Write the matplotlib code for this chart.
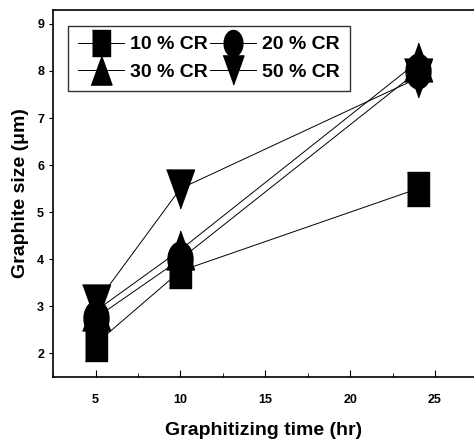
import numpy as np
import matplotlib

matplotlib.use("Agg")
import matplotlib.pyplot as plt
from matplotlib.ticker import MultipleLocator

plt.rcParams["font.family"] = ["Liberation Sans", "DejaVu Sans"]
plt.rcParams["font.weight"] = "bold"

time_hr = [5, 10, 24]
labels = ["10 % CR", "20 % CR", "30 % CR", "50 % CR"]
cr10 = [2.2, 3.75, 5.5]
cr20 = [2.75, 4.0, 8.0]
cr30 = [2.9, 4.2, 8.2]
cr50 = [3.05, 5.5, 7.85]

# tall markers, like the stretched scan
t = np.linspace(0, 2 * np.pi, 40)
m_square = [(-0.33, -0.5), (0.33, -0.5), (0.33, 0.5), (-0.33, 0.5)]
m_circle = list(zip(0.36 * np.cos(t), 0.5 * np.sin(t)))
m_up = [(-0.36, -0.5), (0.36, -0.5), (0.0, 0.5)]
m_down = [(-0.36, 0.5), (0.36, 0.5), (0.0, -0.5)]

series = [(cr10, m_square, 25), (cr20, m_circle, 25),
          (cr30, m_up, 28), (cr50, m_down, 28)]

fig = plt.figure(figsize=(4.74, 4.45), dpi=100)
ax = fig.add_axes([0.112, 0.153, 0.888, 0.825])

handles = []
for (ys, mk, ms), lab in zip(series, labels):
    h, = ax.plot(time_hr, ys, "-", color="black", lw=0.7, marker=mk,
                 markersize=ms, markerfacecolor="black",
                 markeredgecolor="black", label=lab)
    handles.append(h)

ax.set_xlim(2.5, 27.3)
ax.set_ylim(1.5, 9.3)
ax.xaxis.set_major_locator(MultipleLocator(5))
ax.xaxis.set_minor_locator(MultipleLocator(2.5))
ax.yaxis.set_major_locator(MultipleLocator(1))
ax.tick_params(axis="x", which="both", direction="in", labelsize=9, pad=12)
ax.tick_params(axis="x", which="major", length=5)
ax.tick_params(axis="x", which="minor", length=3)
ax.tick_params(axis="y", direction="out", labelsize=9, length=3)
ax.spines["right"].set_visible(False)
for sp in ["left", "bottom", "top"]:
    ax.spines[sp].set_linewidth(1.2)

ax.set_xlabel("Graphitizing time (hr)", fontsize=14, fontweight="bold",
              labelpad=12)
ax.set_ylabel("Graphite size (μm)", fontsize=14, fontweight="bold",
              labelpad=6)

order = [0, 2, 1, 3]
leg = ax.legend([handles[i] for i in order], [labels[i] for i in order],
                ncol=2, loc="upper left", bbox_to_anchor=(0.012, 0.982),
                fontsize=14, frameon=True, fancybox=False,
                edgecolor="black", handlelength=2.4, handletextpad=0.3,
                columnspacing=0.1, borderpad=0.5, labelspacing=0.5,
                markerscale=0.75)
leg.get_frame().set_linewidth(1.0)

fig.savefig("out.png", dpi=100)
